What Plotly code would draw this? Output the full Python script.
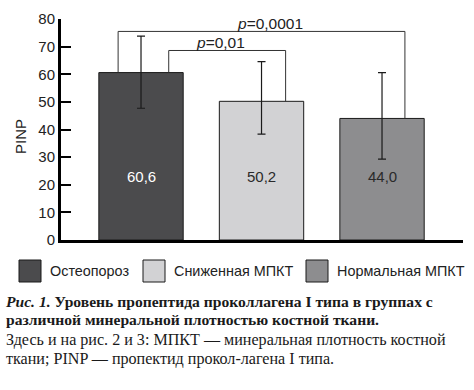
import plotly.graph_objects as go

categories = ["Остеопороз", "Сниженная МПКТ", "Нормальная МПКТ"]
means = [60.6, 50.2, 44.0]
err_plus = [13.2, 14.4, 16.6]
err_minus = [12.9, 11.9, 14.7]
value_labels = ["60,6", "50,2", "44,0"]
bar_colors = ["#4b4b4d", "#d2d2d4", "#8d8d8f"]
label_colors = ["#ffffff", "#2a2a2a", "#2a2a2a"]
y_ticks = [0, 10, 20, 30, 40, 50, 60, 70, 80]

# significance brackets: (left bar, right bar, height, label)
brackets = [
    (0, 2, 75.5, "<i>p</i>=0,0001"),
    (0, 1, 68.6, "<i>p</i>=0,01"),
]
bracket_offsets = [(-0.19, 0.19), (0.23, 0.2)]
bracket_label_x = [1.07, 0.66]

xs = list(range(len(categories)))

fig = go.Figure()
fig.add_trace(go.Bar(
    x=xs, y=means, width=0.70,
    marker=dict(color=bar_colors, line=dict(color="#1a1a1a", width=1)),
    error_y=dict(type="data", symmetric=False, array=err_plus, arrayminus=err_minus,
                 color="#1a1a1a", thickness=1.2, width=4),
    showlegend=False, hoverinfo="skip",
))

W, H = 474, 390
ml, mr, mt, mb = 61, 11, 19, 150
pw, ph = W - ml - mr, H - mt - mb

def px_x(p):
    return (p - ml) / pw

def px_y(p):
    return 1 - (p - mt) / ph

annotations = []
shapes = []
for i, (v, lab) in enumerate(zip(means, value_labels)):
    annotations.append(dict(x=xs[i], y=23, xref="x", yref="y", text=lab, showarrow=False,
                            font=dict(family="Liberation Sans", size=15, color=label_colors[i])))

for (a, b, h, lab), (oa, ob), lx in zip(brackets, bracket_offsets, bracket_label_x):
    xa = xs[a] + oa
    xb = xs[b] + ob
    line = dict(color="#333333", width=1)
    shapes.append(dict(type="line", xref="x", yref="y", x0=xa, x1=xa, y0=means[a], y1=h, line=line))
    shapes.append(dict(type="line", xref="x", yref="y", x0=xa, x1=xb, y0=h, y1=h, line=line))
    shapes.append(dict(type="line", xref="x", yref="y", x0=xb, x1=xb, y0=means[b], y1=h, line=line))
    annotations.append(dict(x=lx, y=h, xref="x", yref="y", xanchor="center", yanchor="bottom",
                            yshift=-3, text=lab, showarrow=False,
                            font=dict(family="Liberation Sans", size=15.5, color="#222")))

# y-axis title
annotations.append(dict(x=px_x(20), y=px_y(137), xref="paper", yref="paper", text="PINP",
                        xanchor="center", yanchor="middle",
                        textangle=-90, showarrow=False,
                        font=dict(family="Liberation Sans", size=15, color="#222")))

legend_sq_x = [19, 143, 306]
for i, cat in enumerate(categories):
    x0 = legend_sq_x[i]
    shapes.append(dict(type="rect", xref="paper", yref="paper",
                       x0=px_x(x0), x1=px_x(x0 + 22), y0=px_y(282), y1=px_y(260),
                       fillcolor=bar_colors[i], line=dict(color="#1a1a1a", width=1)))
    annotations.append(dict(x=px_x(x0 + 29), y=px_y(271), xref="paper", yref="paper",
                            xanchor="left", yanchor="middle", text=cat, showarrow=False,
                            font=dict(family="Liberation Sans", size=14.4, color="#222")))

caption1 = "<b><i>Рис. 1.</i> Уровень пропептида проколлагена I типа в группах с</b>"
caption2 = "<b>различной минеральной плотностью костной ткани.</b>"
caption3 = "Здесь и на рис. 2 и 3: МПКТ — минеральная плотность костной"
caption4 = "ткани; PINP — пропектид прокол-лагена I типа."
for txt, yc, sz in [(caption1, 301.5, 15.6), (caption2, 319, 15.6), (caption3, 340, 16.1), (caption4, 358.5, 16.1)]:
    annotations.append(dict(x=px_x(5), y=px_y(yc), xref="paper", yref="paper",
                            xanchor="left", yanchor="middle", text=txt, showarrow=False,
                            borderpad=0,
                            font=dict(family="Liberation Serif", size=sz, color="#1a1a1a")))

fig.update_layout(
    width=W, height=H,
    margin=dict(l=ml, r=mr, t=mt, b=mb, pad=0),
    paper_bgcolor="white", plot_bgcolor="white",
    xaxis=dict(range=[-0.664, 2.672], showticklabels=False, ticks="", showgrid=False,
               zeroline=False, showline=True, linecolor="black", linewidth=3),
    yaxis=dict(range=[0, 80], tickvals=y_ticks, ticks="inside", ticklen=10, tickwidth=1.5,
               tickcolor="black", showgrid=False, zeroline=False, showline=True,
               linecolor="black", linewidth=3,
               tickfont=dict(family="Liberation Sans", size=15, color="#222")),
    shapes=shapes, annotations=annotations,
    font=dict(family="Liberation Sans"),
)

fig.write_html("out.html", config={"displayModeBar": False},
               post_script="document.body.style.margin='0';document.body.style.padding='0';")
